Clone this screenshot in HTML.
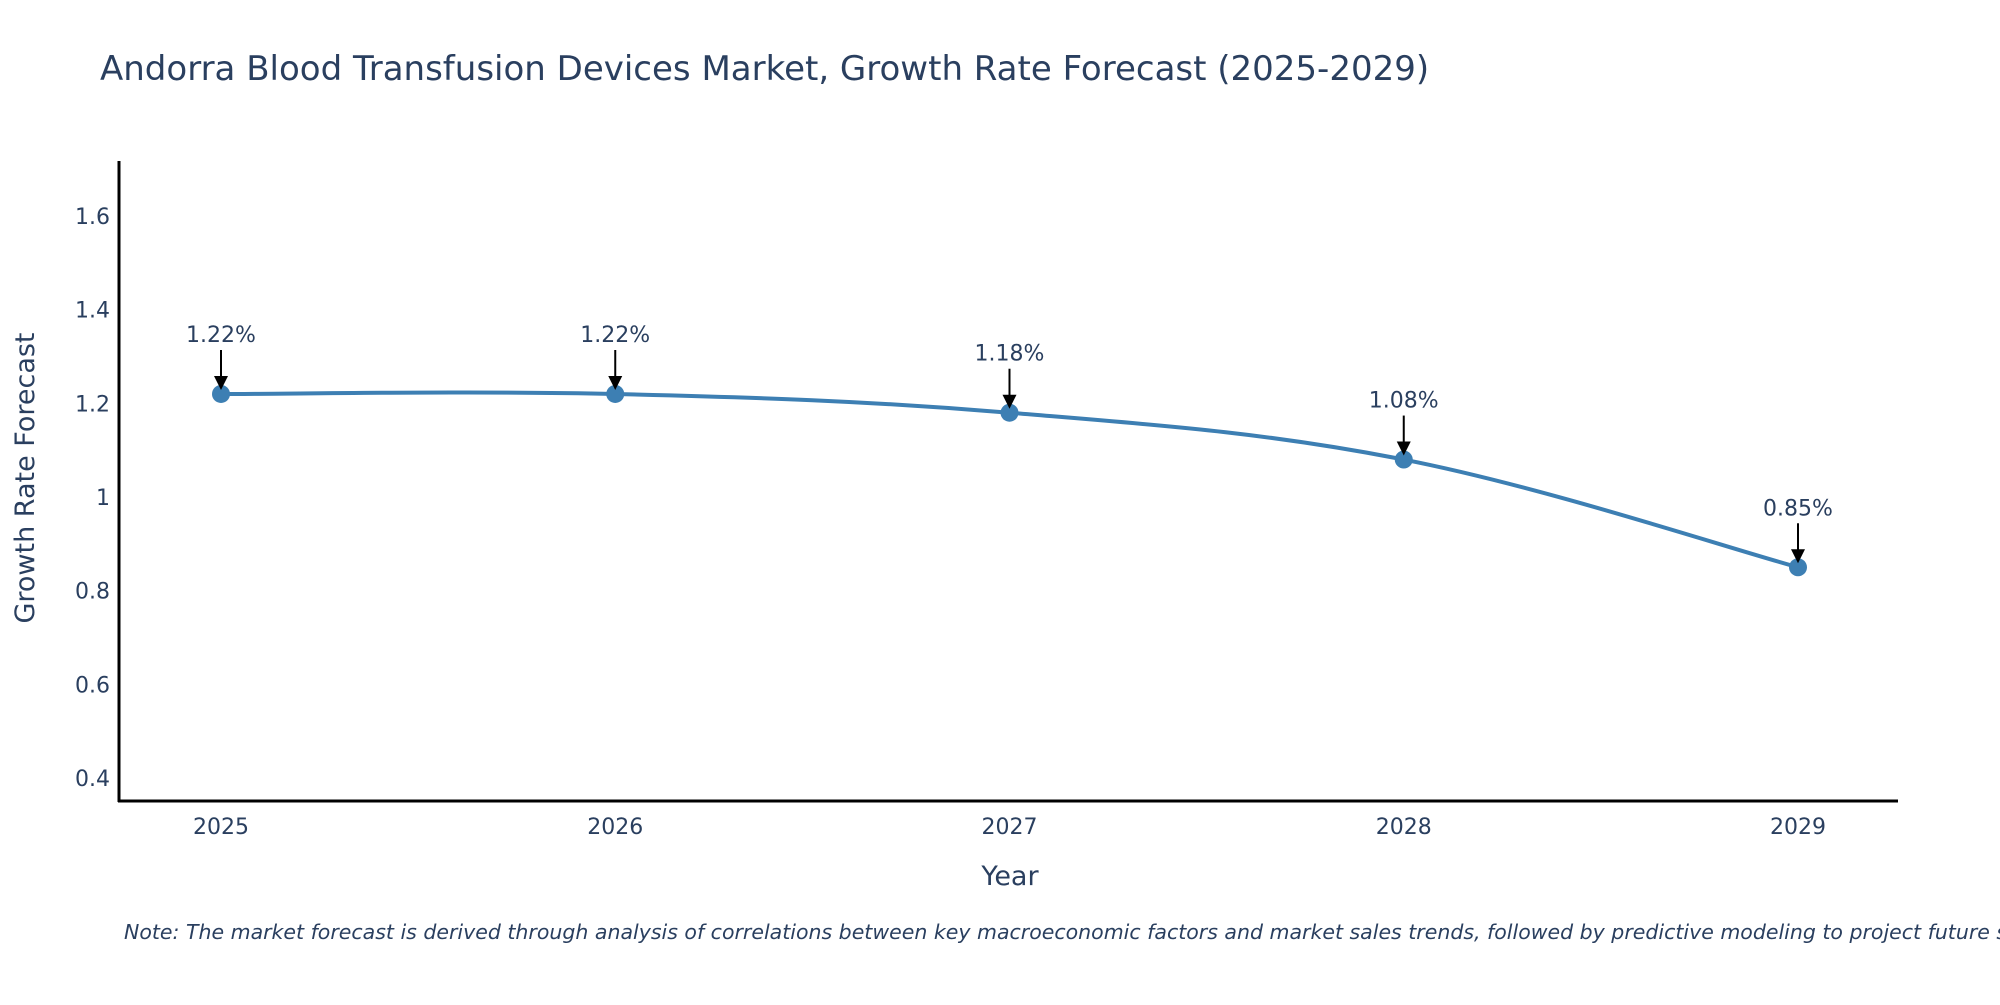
<!DOCTYPE html>
<html><head><meta charset="utf-8"><style>
body{margin:0;background:#fff;overflow:hidden;}
svg text{font-family:"DejaVu Sans","Liberation Sans",sans-serif;fill:#2a3f5f;}
</style></head><body>
<svg id="chart" width="2000" height="1000" xmlns="http://www.w3.org/2000/svg">
<text x="100" y="80" font-size="34">Andorra Blood Transfusion Devices Market, Growth Rate Forecast (2025-2029)</text>
<g id="yticks"></g><g id="xticks"></g>
<line x1="119" y1="161" x2="119" y2="802" stroke="#000" stroke-width="3"/>
<line x1="118" y1="801" x2="1898" y2="801" stroke="#000" stroke-width="3"/>
<path id="series" fill="none" stroke="#3d7fb3" stroke-width="4"/>
<g id="points"></g>
<text transform="translate(34,478) rotate(-90)" text-anchor="middle" font-size="27">Growth Rate Forecast</text>
<text x="1010" y="885" text-anchor="middle" font-size="27">Year</text>
<text x="124" y="939" font-size="20.5" font-style="italic">Note: The market forecast is derived through analysis of correlations between key macroeconomic factors and market sales trends, followed by predictive modeling to project future sales.</text>
</svg>
<script>
const years = ["2025","2026","2027","2028","2029"];
const values = [1.22, 1.22, 1.18, 1.08, 0.85];
const labels = ["1.22%","1.22%","1.18%","1.08%","0.85%"];
const yTicks = [0.4,0.6,0.8,1,1.2,1.4,1.6];
const NS="http://www.w3.org/2000/svg";
function xs(i){return 221+i*(1798-221)/(years.length-1);}
function ys(v){return 778-(v-0.4)*468.3;}
const yg=document.getElementById('yticks'), xg=document.getElementById('xticks'), pg=document.getElementById('points');
yTicks.forEach(t=>{const e=document.createElementNS(NS,'text');e.setAttribute('x',110);e.setAttribute('y',ys(t)+8);e.setAttribute('text-anchor','end');e.setAttribute('font-size','22');e.textContent=String(t);


yg.appendChild(e);});
years.forEach((y,i)=>{const e=document.createElementNS(NS,'text');e.setAttribute('x',xs(i));e.setAttribute('y',834);e.setAttribute('text-anchor','middle');e.setAttribute('font-size','22');e.textContent=y;


xg.appendChild(e);});
const P=values.map((v,i)=>[xs(i),ys(v)]);
let d='M'+P[0][0]+','+P[0][1];
for(let i=0;i<P.length-1;i++){const p0=P[Math.max(i-1,0)],p1=P[i],p2=P[i+1],p3=P[Math.min(i+2,P.length-1)];const k=0.18;
d+=' C'+(p1[0]+(p2[0]-p0[0])*k)+','+(p1[1]+(p2[1]-p0[1])*k)+' '+(p2[0]-(p3[0]-p1[0])*k)+','+(p2[1]-(p3[1]-p1[1])*k)+' '+p2[0]+','+p2[1];}
document.getElementById('series').setAttribute('d',d);
P.forEach((p,i)=>{const c=document.createElementNS(NS,'circle');c.setAttribute('cx',p[0]);c.setAttribute('cy',p[1]);c.setAttribute('r',9);c.setAttribute('fill','#3d7fb3');


pg.appendChild(c);
const l=document.createElementNS(NS,'line');l.setAttribute('x1',p[0]);l.setAttribute('y1',p[1]-44);l.setAttribute('x2',p[0]);l.setAttribute('y2',p[1]-16);l.setAttribute('stroke','#000');l.setAttribute('stroke-width','2');


pg.appendChild(l);
const h=document.createElementNS(NS,'polygon');h.setAttribute('points',(p[0]-7)+','+(p[1]-18)+' '+(p[0]+7)+','+(p[1]-18)+' '+p[0]+','+(p[1]-4));h.setAttribute('fill','#000');


pg.appendChild(h);
const t=document.createElementNS(NS,'text');t.setAttribute('x',p[0]);t.setAttribute('y',p[1]-52);t.setAttribute('text-anchor','middle');t.setAttribute('font-size','22');t.textContent=labels[i];


pg.appendChild(t);});
</script>
</body></html>
